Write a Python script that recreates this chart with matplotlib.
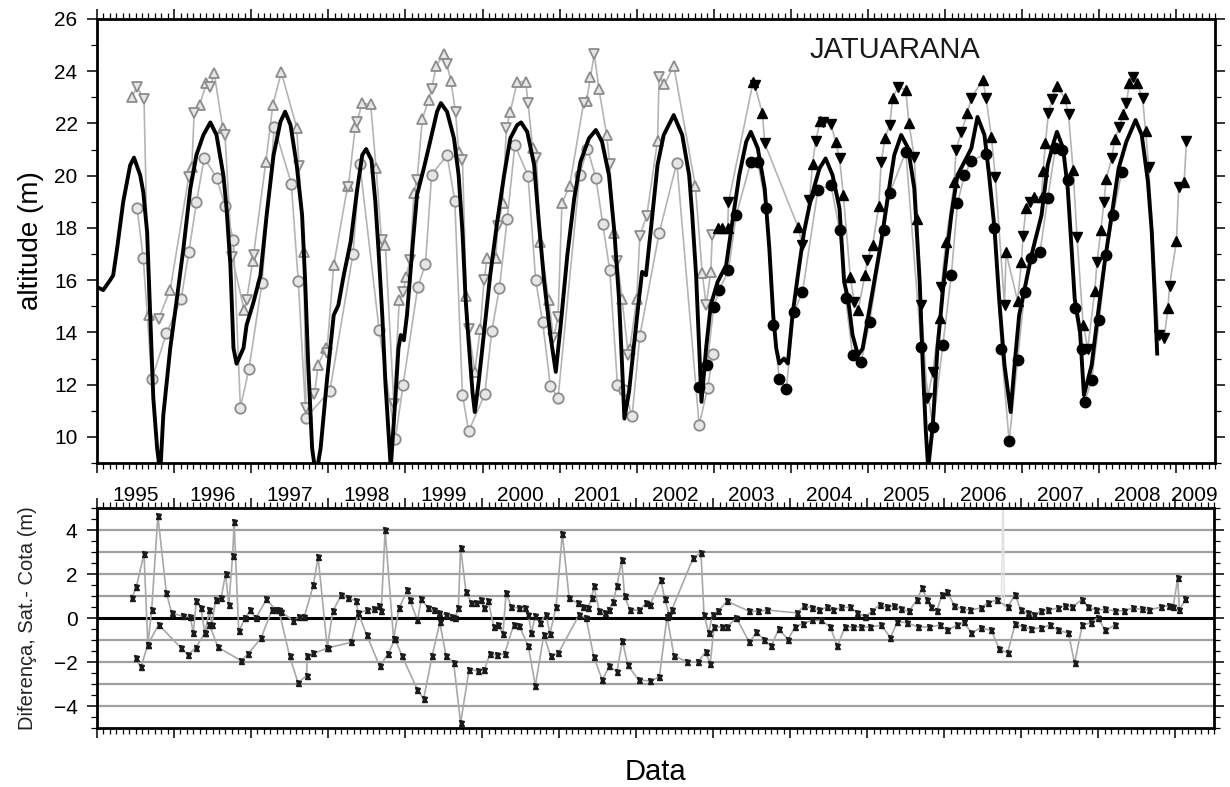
import matplotlib
matplotlib.use("Agg")
import matplotlib.pyplot as plt
from matplotlib.ticker import MultipleLocator, FixedLocator
import numpy as np

plt.rcParams['font.family'] = ['Liberation Sans', 'DejaVu Sans']

# ---------------- data: gauge (cota) series, black line ----------------
gauge_t = [1995.00, 1995.08, 1995.17, 1995.21, 1995.26, 1995.34, 1995.43, 1995.48, 1995.56, 1995.60,
           1995.65, 1995.69, 1995.73, 1995.78, 1995.82, 1995.86, 1995.95, 1996.03, 1996.12, 1996.21,
           1996.29, 1996.38, 1996.47, 1996.55, 1996.64, 1996.68, 1996.73, 1996.77, 1996.81, 1996.90,
           1996.94, 1997.03, 1997.12, 1997.20, 1997.29, 1997.38, 1997.44, 1997.51, 1997.59, 1997.66,
           1997.70, 1997.74, 1997.79, 1997.84, 1997.90, 1997.98, 1998.07, 1998.13, 1998.20, 1998.29,
           1998.37, 1998.44, 1998.49, 1998.56, 1998.61, 1998.65, 1998.70, 1998.74, 1998.78, 1998.81,
           1998.87, 1998.91, 1998.94, 1998.98, 1999.02, 1999.09, 1999.15, 1999.24, 1999.32, 1999.41,
           1999.46, 1999.54, 1999.63, 1999.69, 1999.74, 1999.78, 1999.82, 1999.87, 1999.90, 1999.95,
           2000.02, 2000.10, 2000.19, 2000.28, 2000.36, 2000.45, 2000.50, 2000.58, 2000.67, 2000.73,
           2000.80, 2000.88, 2000.95, 2001.01, 2001.10, 2001.19, 2001.27, 2001.38, 2001.47, 2001.55,
           2001.64, 2001.71, 2001.77, 2001.81, 2001.84, 2001.90, 2001.96, 2002.03, 2002.07, 2002.12,
           2002.18, 2002.27, 2002.35, 2002.48, 2002.59, 2002.68, 2002.72, 2002.77, 2002.81, 2002.84,
           2002.90, 2002.96, 2003.05, 2003.16, 2003.24, 2003.33, 2003.42, 2003.48, 2003.57, 2003.66,
           2003.72, 2003.77, 2003.81, 2003.85, 2003.91, 2003.96, 2004.02, 2004.09, 2004.17, 2004.26,
           2004.37, 2004.45, 2004.54, 2004.63, 2004.69, 2004.74, 2004.80, 2004.87, 2004.93, 2004.99,
           2005.08, 2005.17, 2005.26, 2005.34, 2005.43, 2005.52, 2005.60, 2005.67, 2005.71, 2005.75,
           2005.78, 2005.84, 2005.90, 2005.99, 2006.08, 2006.16, 2006.25, 2006.34, 2006.42, 2006.51,
           2006.57, 2006.64, 2006.70, 2006.77, 2006.85, 2006.90, 2006.96, 2007.05, 2007.12, 2007.25,
           2007.33, 2007.41, 2007.45, 2007.53, 2007.59, 2007.64, 2007.68, 2007.75, 2007.80, 2007.90,
           2007.98, 2008.07, 2008.16, 2008.25, 2008.35, 2008.47, 2008.55, 2008.63, 2008.68, 2008.72,
           2008.75]
gauge_v = [15.74, 15.62, 16.00, 16.19, 17.20, 19.00, 20.40, 20.69, 20.02, 19.38,
           17.85, 14.66, 11.50, 9.56, 8.60, 10.83, 13.40, 15.16, 17.20, 19.50,
           20.80, 21.56, 22.04, 21.56, 20.00, 18.76, 16.57, 13.40, 12.80, 13.40,
           14.28, 15.16, 16.19, 18.49, 20.79, 22.07, 22.45, 21.94, 20.41, 18.49,
           15.94, 12.74, 9.56, 8.50, 9.56, 12.10, 14.66, 15.04, 16.19, 17.47,
           19.38, 20.79, 21.02, 20.60, 19.00, 17.20, 14.66, 12.10, 10.19, 8.80,
           11.50, 13.40, 13.90, 13.70, 14.66, 17.20, 19.26, 20.30, 21.30, 22.45,
           22.78, 22.45, 21.43, 20.02, 17.85, 15.30, 13.64, 11.72, 10.95, 12.10,
           14.02, 16.19, 18.23, 20.02, 21.43, 21.94, 22.04, 21.68, 20.41, 18.23,
           15.94, 13.90, 12.49, 14.16, 16.96, 19.14, 20.53, 21.43, 21.75, 21.30,
           20.02, 17.85, 15.30, 12.74, 10.70, 11.72, 13.40, 15.30, 16.32, 16.19,
           17.85, 20.41, 21.56, 22.32, 21.56, 20.02, 18.49, 16.19, 13.40, 11.34,
           13.40, 15.04, 15.94, 16.57, 18.23, 20.02, 21.30, 21.68, 21.05, 19.51,
           17.21, 14.66, 13.38, 12.81, 13.00, 12.81, 14.66, 16.19, 17.85, 19.13,
           20.28, 20.66, 20.02, 18.75, 15.94, 15.30, 13.89, 13.13, 13.38, 14.40,
           15.94, 17.47, 19.26, 20.79, 21.56, 21.05, 19.51, 15.94, 12.74, 10.19,
           8.80, 10.44, 13.38, 16.19, 18.49, 20.02, 20.53, 21.05, 22.25, 21.56,
           20.02, 17.98, 15.30, 12.74, 10.95, 12.74, 14.66, 15.94, 16.96, 18.49,
           20.41, 21.30, 21.68, 21.05, 19.51, 17.21, 15.30, 14.02, 11.60, 12.74,
           14.66, 16.70, 18.49, 20.28, 21.30, 22.13, 21.56, 19.77, 17.85, 15.30,
           13.19]

# ---------------- satellite series (mission 1: grey open markers) ----------------
tp_circ_t = [1995.52, 1995.60, 1995.71, 1995.90, 1996.09, 1996.19, 1996.29, 1996.39, 1996.55, 1996.66,
             1996.77, 1996.86, 1996.97, 1997.14, 1997.30, 1997.52, 1997.61, 1997.71, 1998.02, 1998.32,
             1998.41, 1998.66, 1998.87, 1998.97, 1999.16, 1999.26, 1999.34, 1999.54, 1999.64, 1999.74,
             1999.82, 2000.03, 2000.12, 2000.22, 2000.32, 2000.42, 2000.59, 2000.69, 2000.78, 2000.88,
             2000.98, 2001.26, 2001.36, 2001.47, 2001.56, 2001.65, 2001.75, 2001.84, 2001.94, 2002.04,
             2002.29, 2002.52, 2002.81, 2002.92, 2002.99]
tp_circ_v = [18.77, 16.83, 12.20, 13.96, 15.27, 17.06, 18.98, 20.69, 19.93, 18.85,
             17.52, 11.12, 12.59, 15.90, 21.87, 19.70, 15.97, 10.74, 11.76, 17.01,
             20.43, 14.08, 9.93, 12.00, 15.73, 16.62, 20.04, 20.79, 19.05, 11.62,
             10.21, 11.64, 14.05, 15.71, 18.34, 21.17, 20.00, 15.99, 14.38, 11.95,
             11.49, 20.04, 21.04, 19.92, 18.14, 16.38, 12.00, 11.79, 10.80, 13.86,
             17.79, 20.50, 10.44, 11.88, 13.19]

tp_up_t = [1995.45, 1995.67, 1995.95, 1996.23, 1996.33, 1996.42, 1996.52, 1996.63, 1996.91, 1997.02,
           1997.19, 1997.28, 1997.39, 1997.59, 1997.68, 1997.87, 1997.97, 1998.07, 1998.25, 1998.35,
           1998.44, 1998.55, 1998.62, 1998.74, 1998.92, 1999.01, 1999.11, 1999.22, 1999.30, 1999.40,
           1999.50, 1999.59, 1999.69, 1999.79, 1999.90, 1999.97, 2000.06, 2000.17, 2000.26, 2000.36,
           2000.45, 2000.56, 2000.65, 2000.75, 2000.86, 2001.03, 2001.13, 2001.35, 2001.40, 2001.51,
           2001.61, 2001.71, 2001.81, 2001.91, 2002.00, 2002.27, 2002.36, 2002.48, 2002.76, 2002.85,
           2002.96]
tp_up_v = [23.00, 14.66, 15.64, 20.34, 22.70, 23.54, 23.92, 21.84, 14.85, 16.73,
           20.53, 22.70, 23.96, 21.84, 17.08, 12.77, 13.41, 16.57, 19.60, 21.87,
           22.77, 22.73, 20.28, 17.34, 15.23, 16.13, 19.32, 22.17, 22.90, 24.21,
           24.65, 23.62, 20.92, 15.40, 12.49, 14.14, 16.83, 16.83, 18.94, 22.45,
           23.60, 23.60, 21.07, 17.47, 15.23, 18.94, 19.61, 22.86, 23.79, 23.32,
           21.56, 17.79, 15.27, 13.38, 15.27, 21.33, 23.50, 24.21, 19.61, 16.26,
           16.32]

tp_dn_t = [1995.52, 1995.61, 1995.80, 1996.19, 1996.26, 1996.47, 1996.66, 1996.75, 1996.94, 1997.03,
           1997.62, 1997.71, 1997.82, 1997.98, 1998.26, 1998.37, 1998.69, 1998.85, 1998.97, 1999.06,
           1999.15, 1999.34, 1999.54, 1999.65, 1999.74, 1999.82, 2000.02, 2000.20, 2000.31, 2000.59,
           2000.70, 2000.92, 2000.98, 2001.31, 2001.45, 2001.65, 2001.75, 2001.89, 2002.04, 2002.13,
           2002.29, 2002.90, 2002.98]
tp_dn_v = [23.40, 22.93, 14.53, 19.96, 22.39, 23.41, 21.56, 16.90, 15.23, 16.96,
           20.37, 11.11, 11.63, 13.20, 19.58, 22.07, 17.53, 11.27, 15.53, 16.77,
           19.83, 23.32, 24.26, 22.45, 20.60, 14.14, 16.00, 18.08, 21.81, 22.80,
           20.69, 13.77, 14.60, 22.77, 24.65, 20.43, 16.73, 13.15, 17.70, 18.47,
           23.79, 15.04, 17.72]

# ---------------- satellite series (mission 2: black filled markers) ----------------
en_circ_t = [2002.81, 2002.91, 2003.00, 2003.07, 2003.19, 2003.29, 2003.48, 2003.57, 2003.68, 2003.77,
             2003.85, 2003.94, 2004.04, 2004.15, 2004.35, 2004.52, 2004.63, 2004.71, 2004.80, 2004.91,
             2005.02, 2005.21, 2005.28, 2005.49, 2005.69, 2005.84, 2005.97, 2006.08, 2006.16, 2006.25,
             2006.34, 2006.53, 2006.64, 2006.73, 2006.83, 2006.94, 2007.03, 2007.12, 2007.23, 2007.33,
             2007.43, 2007.51, 2007.59, 2007.68, 2007.77, 2007.81, 2007.90, 2008.00, 2008.09, 2008.18,
             2008.29]
en_circ_v = [11.91, 12.74, 14.98, 15.62, 16.38, 18.49, 20.53, 20.53, 18.77, 14.28,
             12.21, 11.85, 14.79, 15.55, 19.45, 19.64, 17.92, 15.30, 13.13, 12.87,
             14.40, 17.92, 19.32, 20.92, 13.44, 10.38, 13.51, 16.19, 18.94, 20.02,
             20.56, 20.85, 17.98, 13.38, 9.83, 12.94, 15.55, 16.83, 17.06, 19.13,
             21.05, 20.98, 19.83, 14.92, 13.38, 11.34, 12.17, 14.47, 16.98, 18.49,
             20.15]

en_up_t = [2003.05, 2003.11, 2003.18, 2003.51, 2003.63, 2004.09, 2004.28, 2004.38, 2004.58, 2004.68,
           2004.77, 2004.87, 2004.96, 2005.06, 2005.14, 2005.22, 2005.32, 2005.49, 2005.53, 2005.64,
           2005.93, 2006.01, 2006.12, 2006.29, 2006.49, 2006.60, 2006.79, 2006.94, 2006.99, 2007.05,
           2007.15, 2007.25, 2007.27, 2007.30, 2007.45, 2007.55, 2007.66, 2007.79, 2007.94, 2008.02,
           2008.09, 2008.20, 2008.31, 2008.39, 2008.49, 2008.60, 2008.89, 2009.00, 2009.10]
en_up_v = [17.98, 17.98, 17.98, 23.60, 22.39, 18.05, 20.43, 22.09, 21.30, 19.26,
           16.13, 14.85, 16.19, 17.34, 18.85, 21.43, 22.97, 23.28, 22.00, 18.34,
           14.55, 17.47, 19.77, 22.39, 23.66, 21.50, 17.06, 15.20, 16.70, 18.75,
           19.19, 19.19, 20.18, 21.24, 23.45, 22.97, 20.21, 14.30, 15.58, 17.92,
           19.89, 21.40, 22.35, 23.54, 23.54, 21.70, 14.92, 17.50, 19.77]

en_dn_t = [2003.19, 2003.53, 2003.66, 2004.15, 2004.24, 2004.32, 2004.42, 2004.52, 2004.63, 2004.82,
           2004.99, 2005.17, 2005.28, 2005.39, 2005.60, 2005.69, 2005.77, 2005.84, 2005.95, 2006.14,
           2006.21, 2006.34, 2006.53, 2006.65, 2006.77, 2007.01, 2007.10, 2007.34, 2007.39, 2007.60,
           2007.71, 2007.85, 2007.97, 2008.06, 2008.16, 2008.26, 2008.35, 2008.44, 2008.56, 2008.64,
           2008.77, 2008.84, 2008.91, 2009.03, 2009.13]
en_dn_v = [18.98, 23.47, 21.24, 17.34, 19.07, 21.33, 22.04, 21.97, 20.66, 15.17,
           16.77, 20.53, 21.94, 23.41, 20.72, 15.04, 11.47, 12.49, 15.74, 20.98,
           21.68, 22.99, 22.99, 19.96, 15.04, 17.70, 18.98, 22.39, 22.93, 22.35,
           17.66, 13.38, 16.70, 19.00, 20.66, 21.87, 22.77, 23.79, 22.99, 20.34,
           13.89, 13.79, 15.78, 19.58, 21.33]

# ---------------- differences, satellite - gauge ----------------
dif_a_t = [1995.45, 1995.51, 1995.61, 1995.66, 1995.71, 1995.79, 1995.90, 1995.97, 1996.11, 1996.21,
           1996.25, 1996.29, 1996.35, 1996.40, 1996.46, 1996.49, 1996.54, 1996.61, 1996.67, 1996.71,
           1996.76, 1996.78, 1996.84, 1996.92, 1996.99, 1997.06, 1997.20, 1997.32, 1997.39, 1997.55,
           1997.62, 1997.69, 1997.81, 1997.87, 1997.99, 1998.06, 1998.17, 1998.26, 1998.36, 1998.39,
           1998.50, 1998.59, 1998.66, 1998.69, 1998.74, 1998.85, 1998.92, 1999.03, 1999.06, 1999.16,
           1999.21, 1999.30, 1999.37, 1999.44, 1999.53, 1999.61, 1999.65, 1999.69, 1999.72, 1999.79,
           1999.86, 1999.92, 1999.98, 2000.03, 2000.08, 2000.15, 2000.20, 2000.27, 2000.31, 2000.38,
           2000.48, 2000.55, 2000.60, 2000.64, 2000.69, 2000.75, 2000.83, 2000.88, 2000.96, 2001.04,
           2001.13, 2001.24, 2001.31, 2001.37, 2001.42, 2001.45, 2001.52, 2001.59, 2001.64, 2001.70,
           2001.75, 2001.81, 2001.85, 2001.92, 2002.04, 2002.13, 2002.18, 2002.32, 2002.37, 2002.43,
           2002.46, 2002.74, 2002.84, 2002.88, 2002.94, 2002.99, 2003.06, 2003.18, 2003.47, 2003.58,
           2003.70, 2004.09, 2004.18, 2004.28, 2004.37, 2004.47, 2004.56, 2004.66, 2004.78, 2004.87,
           2004.97, 2005.06, 2005.16, 2005.25, 2005.35, 2005.44, 2005.54, 2005.64, 2005.71, 2005.78,
           2005.82, 2005.90, 2005.97, 2006.04, 2006.13, 2006.23, 2006.33, 2006.47, 2006.56, 2006.68,
           2006.82, 2006.92, 2006.99, 2007.09, 2007.16, 2007.25, 2007.35, 2007.47, 2007.57, 2007.66,
           2007.78, 2007.87, 2007.97, 2008.09, 2008.21, 2008.33, 2008.45, 2008.56, 2008.66, 2008.81,
           2008.91, 2008.97, 2009.03, 2009.05, 2009.13]
dif_a_v = [0.91, 1.41, 2.92, -1.21, 0.38, 4.65, 1.14, 0.23, 0.08, 0.05,
           -0.68, 0.79, 0.45, -0.68, 0.36, -0.30, 0.82, 0.89, 2.01, 0.60,
           2.80, 4.35, -0.61, -0.02, 0.36, -0.02, 0.85, 0.36, 0.29, -0.13,
           0.05, 0.05, 1.51, 2.77, -1.36, 0.30, 1.04, 0.90, 0.79, 0.23,
           0.36, 0.39, 0.56, 0.30, 4.00, -0.95, 0.45, 1.26, 0.82, -0.11,
           0.85, 0.45, 0.35, 0.23, 0.15, 0.05, 0.00, 0.45, 3.18, 1.20,
           0.68, 0.68, 0.82, 0.45, 0.76, -0.41, -0.30, -0.71, 1.14, 0.50,
           0.45, 0.45, 0.15, -0.68, 0.11, -0.23, 0.15, -0.71, 0.50, 3.83,
           0.89, 0.68, 0.48, 0.45, 0.89, 1.45, 0.30, 0.23, 0.36, 0.74,
           1.45, 2.65, 0.98, 0.36, 0.36, 0.68, 0.61, 1.74, 0.85, 0.15,
           0.36, 2.73, 2.97, 0.15, -0.68, 0.15, 0.30, 0.76, 0.30, 0.30,
           0.36, 0.23, 0.56, 0.45, 0.36, 0.48, 0.36, 0.48, 0.48, 0.24,
           0.06, 0.30, 0.61, 0.48, 0.56, 0.41, 0.30, 0.82, 1.35, 0.82,
           0.50, 0.30, 1.06, 1.17, 0.56, 0.41, 0.36, 0.45, 0.68, 0.82,
           0.50, 1.06, 0.36, 0.23, 0.15, 0.30, 0.36, 0.45, 0.56, 0.50,
           0.82, 0.50, 0.36, 0.39, 0.33, 0.33, 0.45, 0.39, 0.36, 0.50,
           0.56, 0.50, 1.82, 0.36, 0.85]

dif_b_t = [1995.50, 1995.57, 1995.66, 1995.80, 1996.09, 1996.18, 1996.28, 1996.40, 1996.46, 1996.57,
           1996.87, 1996.96, 1997.13, 1997.27, 1997.36, 1997.50, 1997.61, 1997.72, 1997.73, 1997.81,
           1998.00, 1998.30, 1998.39, 1998.50, 1998.67, 1998.78, 1998.87, 1998.96, 1999.16, 1999.24,
           1999.35, 1999.45, 1999.53, 1999.63, 1999.72, 1999.83, 1999.94, 2000.03, 2000.10, 2000.19,
           2000.29, 2000.41, 2000.48, 2000.60, 2000.69, 2000.80, 2000.89, 2000.99, 2001.26, 2001.35,
           2001.45, 2001.56, 2001.65, 2001.75, 2001.82, 2001.89, 2002.03, 2002.18, 2002.30, 2002.40,
           2002.49, 2002.66, 2002.80, 2002.90, 2002.96, 2003.01, 2003.11, 2003.18, 2003.30, 2003.47,
           2003.56, 2003.66, 2003.75, 2003.85, 2003.97, 2004.06, 2004.16, 2004.28, 2004.40, 2004.52,
           2004.61, 2004.71, 2004.82, 2004.92, 2005.04, 2005.18, 2005.30, 2005.39, 2005.51, 2005.66,
           2005.80, 2005.94, 2006.04, 2006.16, 2006.25, 2006.35, 2006.47, 2006.61, 2006.71, 2006.82,
           2006.92, 2007.02, 2007.13, 2007.25, 2007.37, 2007.48, 2007.61, 2007.69, 2007.79, 2007.90,
           2007.99, 2008.09, 2008.21]
dif_b_v = [-1.82, -2.23, -1.21, -0.30, -1.36, -1.67, -1.36, -0.68, -0.30, -1.33,
           -1.94, -1.64, -0.91, 0.36, 0.36, -1.73, -2.95, -2.62, -1.73, -1.61,
           -1.36, -1.10, 0.23, -0.76, -2.20, -1.62, -0.95, -1.73, -3.26, -3.68,
           -1.73, -0.20, -1.71, -2.04, -4.77, -2.35, -2.40, -2.35, -1.64, -1.68,
           -1.64, -0.30, -0.35, -1.29, -3.08, -0.77, -1.73, -1.59, 0.15, 0.00,
           -1.79, -2.82, -2.20, -2.44, -1.03, -2.14, -2.82, -2.86, -2.68, 0.05,
           -1.71, -2.00, -2.00, -1.55, -2.08, -0.41, -0.41, -0.41, 0.00, -1.11,
           -0.65, -0.98, -1.29, -0.50, -0.98, -0.41, -0.26, -0.11, -0.11, -0.41,
           -1.29, -0.41, -0.41, -0.41, -0.41, -0.33, -0.89, -0.17, -0.21, -0.41,
           -0.41, -0.33, -0.56, -0.33, -0.17, -0.68, -0.45, -0.56, -1.39, -1.59,
           -0.26, -0.41, -0.50, -0.45, -0.33, -0.56, -0.68, -2.05, -0.33, -0.21,
           0.00, -0.56, -0.33]

outlier_t = [2006.74, 2006.76, 2006.78]
outlier_v = [0.80, 6.00, 0.50]

years = list(range(1995, 2010))
x_min, x_max = 1995.0, 2009.5

# ---------------- figure ----------------
W, H = 1230, 787
fig = plt.figure(figsize=(W / 100, H / 100), dpi=100)
ax1 = fig.add_axes([97 / W, 1 - 463 / H, (1215 - 97) / W, (463 - 19) / H])
ax2 = fig.add_axes([97 / W, 1 - 728 / H, (1214 - 97) / W, (728 - 508) / H])

grey_line = '#b4b4b4'
grey_edge = '#8c8c8c'
grey_face = '#e6e6e6'

# top panel: connecting lines
def conn(ax, t, v, lw=1.2, color=grey_line, z=1):
    ax.plot(t, v, '-', color=color, lw=lw, zorder=z)

tp_tri_t, tp_tri_v = zip(*sorted(zip(tp_up_t + tp_dn_t, tp_up_v + tp_dn_v)))
en_tri_t, en_tri_v = zip(*sorted(zip(en_up_t + en_dn_t, en_up_v + en_dn_v)))
conn(ax1, tp_tri_t, tp_tri_v)
conn(ax1, tp_circ_t, tp_circ_v)
conn(ax1, en_tri_t, en_tri_v)
conn(ax1, en_circ_t, en_circ_v)

ms = 7.5
ax1.plot(tp_circ_t, tp_circ_v, 'o', ms=ms, mfc=grey_face, mec=grey_edge, mew=1.3, zorder=2, ls='none')
ax1.plot(tp_up_t, tp_up_v, '^', ms=ms, mfc=grey_face, mec=grey_edge, mew=1.3, zorder=2, ls='none')
ax1.plot(tp_dn_t, tp_dn_v, 'v', ms=ms, mfc=grey_face, mec=grey_edge, mew=1.3, zorder=2, ls='none')

ax1.plot(gauge_t, gauge_v, '-', color='black', lw=2.8, zorder=3, solid_joinstyle='round')

ax1.plot(en_circ_t, en_circ_v, 'o', ms=ms, mfc='black', mec='black', zorder=4, ls='none')
ax1.plot(en_up_t, en_up_v, '^', ms=ms, mfc='black', mec='black', zorder=4, ls='none')
ax1.plot(en_dn_t, en_dn_v, 'v', ms=ms, mfc='black', mec='black', zorder=4, ls='none')

ax1.set_xlim(x_min, x_max)
ax1.set_ylim(9, 26)
ax1.yaxis.set_major_locator(FixedLocator(list(range(10, 27, 2))))
ax1.yaxis.set_minor_locator(MultipleLocator(1))
ax1.set_ylabel('altitude (m)', fontsize=20)
ax1.yaxis.set_label_coords(-0.047, 0.5)
ax1.text(0.714, 0.93, 'JATUARANA', transform=ax1.transAxes, fontsize=21,
         ha='center', va='center', color='#1a1a1a')

# bottom panel
for g in [-4, -3, -2, -1, 1, 2, 3, 4]:
    ax2.axhline(g, color='#a0a0a0', lw=1.6, zorder=0)
ax2.axhline(0, color='black', lw=2.2, zorder=1)

ax2.plot(outlier_t, outlier_v, '-', color='#e0e0e0', lw=1.0, zorder=1)
for t, v in [(dif_a_t, dif_a_v), (dif_b_t, dif_b_v)]:
    ax2.plot(t, v, '-', color='#a8a8a8', lw=1.2, zorder=2)
    ax2.plot(t, v, '^', ms=3.6, color='#1a1a1a', zorder=3, ls='none')
    ax2.plot(t, v, 'v', ms=3.6, color='#1a1a1a', zorder=3, ls='none')

ax2.set_xlim(x_min, x_max)
ax2.set_ylim(-5, 5)
ax2.yaxis.set_major_locator(FixedLocator([-4, -2, 0, 2, 4]))
ax2.yaxis.set_minor_locator(MultipleLocator(0.5))
ax2.set_ylabel('Diferença, Sat.- Cota (m)', fontsize=14.5, color='#222222')
ax2.yaxis.set_label_coords(-0.054, 0.5)
ax2.set_xlabel('Data', fontsize=21)
ax2.xaxis.set_label_coords(0.5, -0.135)

for ax in (ax1, ax2):
    ax.xaxis.set_major_locator(MultipleLocator(1))
    ax.xaxis.set_minor_locator(MultipleLocator(1 / 12))
    ax.tick_params(which='both', direction='out', top=True, bottom=True, left=True, right=True,
                   labelbottom=False, labeltop=False, labelsize=15, colors='black')
    ax.tick_params(which='major', length=7, width=1.1, pad=7)
    ax.tick_params(which='minor', length=4, width=0.9)
    for s in ax.spines.values():
        s.set_linewidth(2.0)

# year annotations between the panels (centered on each year interval)
label_pos = [y + 0.5 for y in years[:-1]] + [(years[-1] + x_max) / 2]
sec = ax2.secondary_xaxis('top')
sec.set_xticks(label_pos)
sec.set_xticklabels([str(y) for y in years])
sec.tick_params(length=0, labelsize=15, pad=2)
sec.xaxis.set_minor_locator(FixedLocator([]))
for s in sec.spines.values():
    s.set_visible(False)

fig.savefig('out.png', dpi=100)
